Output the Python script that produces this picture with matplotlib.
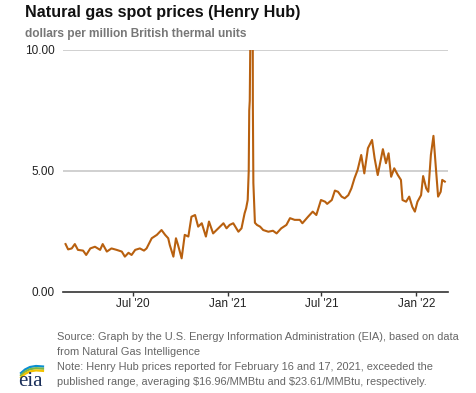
import matplotlib
matplotlib.use('Agg')
import matplotlib.pyplot as plt
from matplotlib.lines import Line2D
import pandas as pd

# Henry Hub spot price ($/MMBtu)
dates = [
    '2020-02-21', '2020-02-26', '2020-03-04', '2020-03-10', '2020-03-16',
    '2020-03-26', '2020-04-01', '2020-04-09', '2020-04-18', '2020-04-28',
    '2020-05-03', '2020-05-11', '2020-05-20', '2020-05-30', '2020-06-09',
    '2020-06-15', '2020-06-22', '2020-06-28', '2020-07-05', '2020-07-14',
    '2020-07-22', '2020-07-27', '2020-08-06', '2020-08-16', '2020-08-25',
    '2020-09-01', '2020-09-07', '2020-09-10', '2020-09-17', '2020-09-22',
    '2020-09-26', '2020-10-03', '2020-10-09', '2020-10-16', '2020-10-22',
    '2020-10-29', '2020-11-04', '2020-11-11', '2020-11-19', '2020-11-25',
    '2020-12-03', '2020-12-13', '2020-12-23', '2020-12-29', '2021-01-04',
    '2021-01-11', '2021-01-21', '2021-01-27', '2021-02-02', '2021-02-05',
    '2021-02-08', '2021-02-10', '2021-02-11', '2021-02-12', '2021-02-16',
    '2021-02-17', '2021-02-18', '2021-02-19', '2021-02-22', '2021-02-26',
    '2021-03-04', '2021-03-10', '2021-03-20', '2021-03-29', '2021-04-05',
    '2021-04-14', '2021-04-24', '2021-05-01', '2021-05-10', '2021-05-20',
    '2021-05-25', '2021-06-05', '2021-06-14', '2021-06-21', '2021-06-30',
    '2021-07-08', '2021-07-12', '2021-07-21', '2021-07-27', '2021-08-02',
    '2021-08-09', '2021-08-15', '2021-08-22', '2021-08-28', '2021-09-03',
    '2021-09-09', '2021-09-16', '2021-09-22', '2021-09-29', '2021-10-07',
    '2021-10-12', '2021-10-18', '2021-10-28', '2021-11-03', '2021-11-08',
    '2021-11-13', '2021-11-19', '2021-11-26', '2021-12-02', '2021-12-05',
    '2021-12-12', '2021-12-18', '2021-12-24', '2021-12-29', '2022-01-03',
    '2022-01-10', '2022-01-14', '2022-01-20', '2022-01-24', '2022-01-29',
    '2022-02-03', '2022-02-08', '2022-02-12', '2022-02-17', '2022-02-20',
    '2022-02-25',
]
prices = [
    1.98, 1.76, 1.80, 1.98, 1.74,
    1.71, 1.53, 1.80, 1.87, 1.74,
    1.98, 1.67, 1.80, 1.74, 1.67,
    1.46, 1.62, 1.53, 1.74, 1.80,
    1.71, 1.80, 2.22, 2.36, 2.56,
    2.36, 2.22, 1.94, 1.46, 2.22,
    1.94, 1.39, 2.36, 2.29, 3.11,
    3.18, 2.70, 2.84, 2.29, 2.91,
    2.42, 2.63, 2.84, 2.63, 2.77,
    2.84, 2.49, 2.63, 3.25, 3.46,
    3.80, 5.00, 7.50, 7.90, 16.96,
    23.61, 7.80, 4.50, 2.86, 2.77,
    2.70, 2.56, 2.49, 2.53, 2.42,
    2.63, 2.77, 3.05, 2.98, 2.98,
    2.84, 3.11, 3.32, 3.18, 3.80,
    3.73, 3.64, 3.80, 4.19, 4.14,
    3.94, 3.87, 4.00, 4.28, 4.70,
    5.04, 5.66, 4.90, 5.94, 6.28,
    5.52, 4.83, 5.90, 5.32, 5.73,
    4.76, 5.11, 4.83, 4.63, 3.80,
    3.73, 3.94, 3.52, 3.32, 3.73,
    4.00, 4.79, 4.28, 4.14, 5.66,
    6.45, 5.04, 3.94, 4.14, 4.63,
    4.56,
]

y_ticks = [0, 5, 10]
x_ticks = ['2020-07-01', '2021-01-01', '2021-07-01', '2022-01-01']
x_tick_labels = ["Jul '20", "Jan '21", "Jul '21", "Jan '22"]

plt.rcParams['font.family'] = ['Liberation Sans', 'DejaVu Sans']

fig = plt.figure(figsize=(4.77, 3.93), dpi=100)
ax = fig.add_axes([0.132, 0.257, 0.807, 0.616])

ax.plot(pd.to_datetime(dates), prices, color='#b8600f', lw=1.5)

ax.set_ylim(0, 10)
ax.set_xlim(pd.Timestamp('2020-02-16'), pd.Timestamp('2022-03-03'))

ax.set_yticks(y_ticks)
ax.set_yticklabels([f'{v:.2f}' for v in y_ticks])
ax.set_xticks(pd.to_datetime(x_ticks))
ax.set_xticklabels(x_tick_labels)

for v in y_ticks[1:]:
    ax.axhline(v, color='#c8c8c8', lw=1.2, zorder=0)

for s in ['top', 'right', 'left']:
    ax.spines[s].set_visible(False)
ax.spines['bottom'].set_color('#333333')
ax.spines['bottom'].set_linewidth(1.2)

ax.tick_params(axis='y', length=0, pad=6, labelsize=8.5, labelcolor='#222222')
ax.tick_params(axis='x', length=3, width=1, color='#333333', direction='out',
               pad=1.5, labelsize=8.5, labelcolor='#222222')

# title block
fig.text(25 / 477, 1 - 13 / 393, 'Natural gas spot prices (Henry Hub)',
         fontsize=11.6, fontweight='bold', color='#111111', va='center')
fig.text(25 / 477, 1 - 34 / 393, 'dollars per million British thermal units',
         fontsize=8.6, fontweight='bold', color='#777777', va='center')

# footnotes
notes = [
    'Source: Graph by the U.S. Energy Information Administration (EIA), based on data',
    'from Natural Gas Intelligence',
    'Note: Henry Hub prices reported for February 16 and 17, 2021, exceeded the',
    'published range, averaging \\$16.96/MMBtu and \\$23.61/MMBtu, respectively.',
]
for i, line in enumerate(notes):
    fig.text(57 / 477, 1 - (337 + 14.9 * i) / 393, line,
             fontsize=7.95, color='#666666', va='center')

# eia logo
fig.text(30 / 477, 1 - 381 / 393, 'eia', fontsize=15, family='Liberation Serif',
         color='#1a2f5a', ha='center', va='center')
for dy, c in [(0, '#0a8fd0'), (2.2, '#7ab648'), (4.4, '#f2c200')]:
    xs = [21, 25, 30, 36, 43]
    ys = [373, 369.5, 367, 366, 366.5]
    fig.add_artist(Line2D([x / 477 for x in xs],
                          [1 - (y + dy) / 393 for y in ys],
                          color=c, lw=1.6, transform=fig.transFigure))

fig.savefig('out.png', dpi=100)
